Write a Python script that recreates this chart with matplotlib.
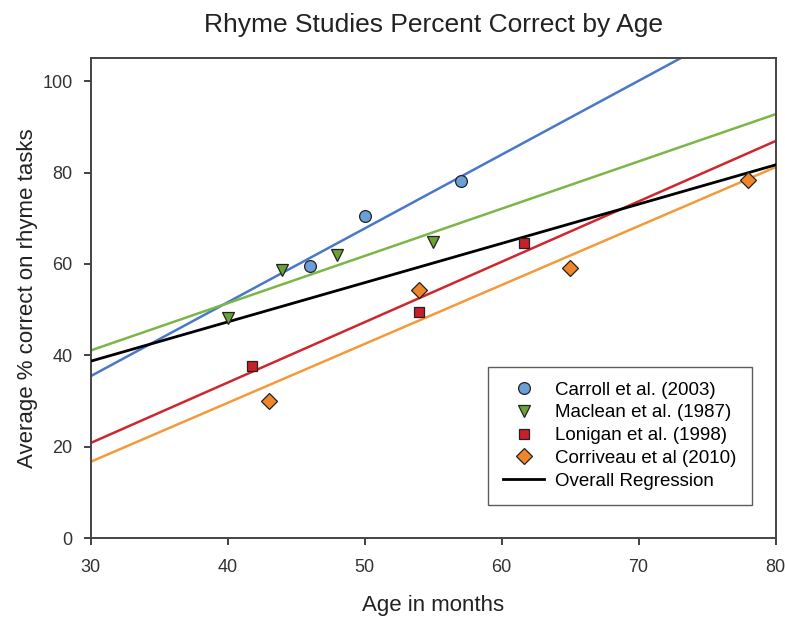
import numpy as np
import matplotlib
matplotlib.use("Agg")
import matplotlib.pyplot as plt

plt.rcParams['font.family'] = ['Liberation Sans', 'DejaVu Sans']

# Data (age in months, average % correct)
carroll_x = [46, 50, 57]
carroll_y = [59.6, 70.4, 78.1]
maclean_x = [40, 44, 48, 55]
maclean_y = [48.1, 58.6, 61.9, 64.9]
lonigan_x = [41.8, 54, 61.6]
lonigan_y = [37.6, 49.4, 64.5]
corriveau_x = [43, 54, 65, 78]
corriveau_y = [30.0, 54.2, 59.0, 78.3]

labels = ["Carroll et al. (2003)", "Maclean et al. (1987)",
          "Lonigan et al. (1998)", "Corriveau et al (2010)", "Overall Regression"]

fig = plt.figure(figsize=(7.85, 6.17), dpi=100)
ax = fig.add_axes([0.1155, 0.128, 0.8725, 0.7775])

xs = np.array([30, 80])
series = [
    (carroll_x, carroll_y, 'o', '#6a9fd8', '#4a78c8', 8.5),
    (maclean_x, maclean_y, 'v', '#6aa236', '#7ab648', 9),
    (lonigan_x, lonigan_y, 's', '#c8202a', '#d0262e', 7.5),
    (corriveau_x, corriveau_y, 'D', '#f0862a', '#f39a3a', 8),
]
handles = []
for x, y, m, fc, lc, ms in series:
    k, b = np.polyfit(x, y, 1)
    ax.plot(xs, k * xs + b, color=lc, lw=1.8, zorder=2)
    h, = ax.plot(x, y, linestyle='none', marker=m, markersize=ms,
                 markerfacecolor=fc, markeredgecolor='#222222',
                 markeredgewidth=0.9, zorder=4)
    handles.append(h)

all_x = carroll_x + maclean_x + lonigan_x + corriveau_x
all_y = carroll_y + maclean_y + lonigan_y + corriveau_y
k, b = np.polyfit(all_x, all_y, 1)
hl, = ax.plot(xs, k * xs + b, color='black', lw=2, zorder=3)
handles.append(hl)

ax.set_xlim(30, 80)
ax.set_ylim(0, 105)
ax.set_xticks([30, 40, 50, 60, 70, 80])
ax.set_yticks([0, 20, 40, 60, 80, 100])
ax.tick_params(direction='out', length=5, width=1.3, colors='#333333',
               labelsize=13, top=False, right=False)
ax.tick_params(axis='x', pad=10)
ax.tick_params(axis='y', pad=8)
for s in ax.spines.values():
    s.set_color('#444444')
    s.set_linewidth(1.4)

ax.set_xlabel("Age in months", fontsize=16, color='#222222', labelpad=14)
ax.set_ylabel("Average % correct on rhyme tasks", fontsize=16, color='#222222', labelpad=3)
ax.set_title("Rhyme Studies Percent Correct by Age", fontsize=19, color='#222222', pad=19)

leg = ax.legend(handles, labels, loc='lower right', bbox_to_anchor=(0.979, 0.05),
                fontsize=13.5, frameon=True, fancybox=False, borderpad=0.8,
                handlelength=2.2, handletextpad=0.6, labelspacing=0.3)
leg.get_frame().set_edgecolor('#333333')
leg.get_frame().set_linewidth(1.0)

fig.savefig("out.png", dpi=100)
